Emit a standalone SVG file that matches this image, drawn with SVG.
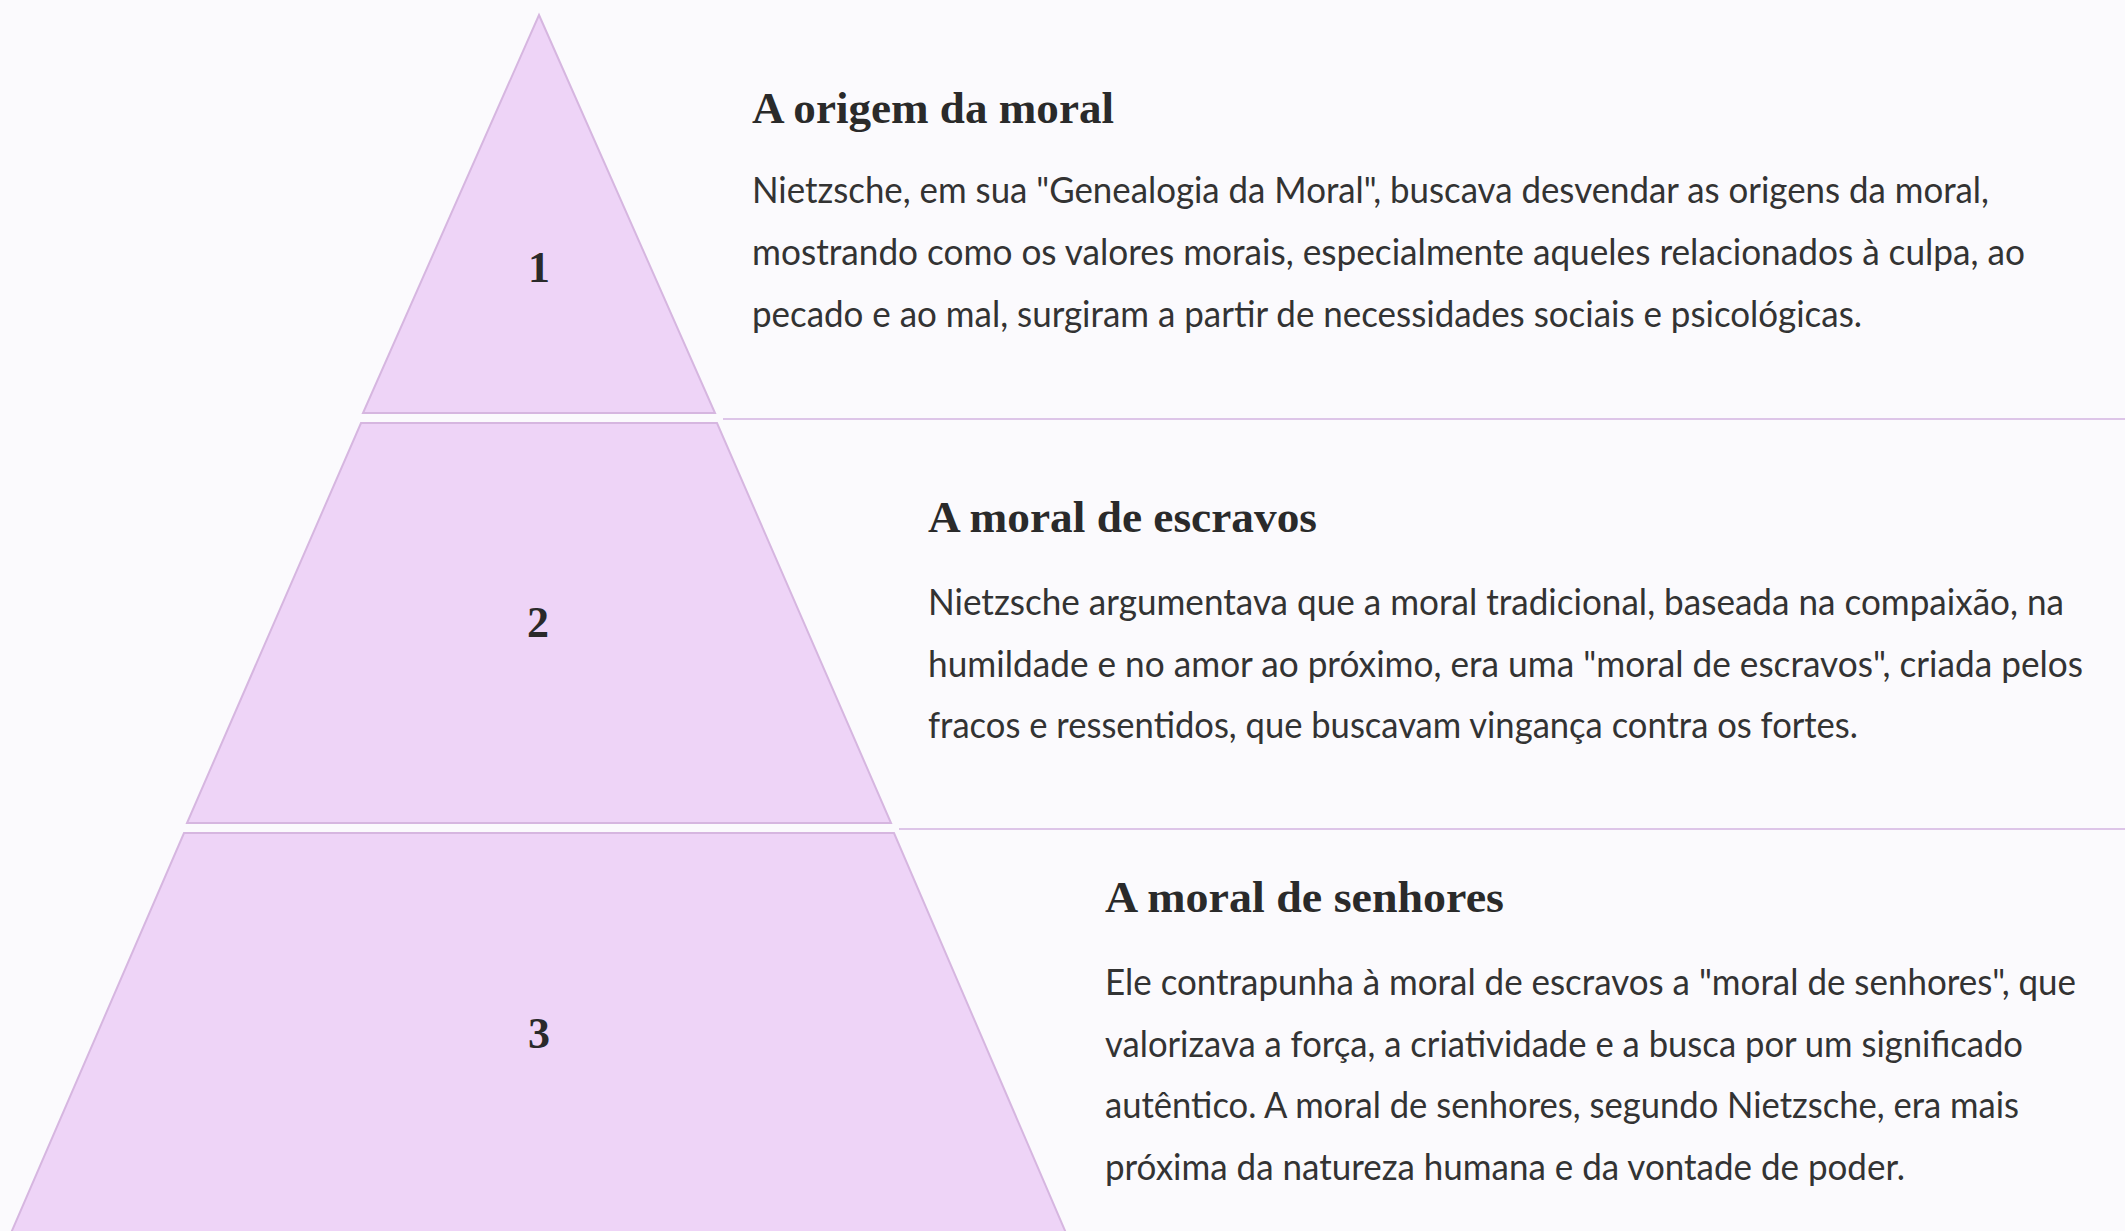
<svg xmlns="http://www.w3.org/2000/svg" width="2125" height="1231" viewBox="0 0 2125 1231">
<style>
.seg{fill:#EED4F7;stroke:#D6B6E0;stroke-width:2}
.sep{stroke:#DDC5E8;stroke-width:2}
.num{font-family:"Liberation Serif",serif;font-weight:700;font-size:44px;fill:#2a2a2a;text-anchor:middle}
.ttl{font-family:"Liberation Serif",serif;font-weight:700;font-size:45px;fill:#2a2a2a}
.txt{font-family:Lato,"Liberation Sans",sans-serif;font-size:36px;fill:#333333}
</style>
<rect x="0" y="0" width="2125" height="1231" fill="#FBFAFD"/>
<g id="connectors">
<line class="sep" x1="723" y1="419" x2="2125" y2="419"/>
<line class="sep" x1="899" y1="829" x2="2125" y2="829"/>
</g>
<g id="level1">
<polygon class="seg" points="539,15 715,413 363,413"/>
<text class="num" x="539" y="282">1</text>
<text class="ttl" x="752" y="123" textLength="362" lengthAdjust="spacingAndGlyphs">A origem da moral</text>
<text class="txt" x="752" y="203" textLength="1237" lengthAdjust="spacingAndGlyphs">Nietzsche, em sua "Genealogia da Moral", buscava desvendar as origens da moral,</text>
<text class="txt" x="752" y="265" textLength="1273" lengthAdjust="spacingAndGlyphs">mostrando como os valores morais, especialmente aqueles relacionados à culpa, ao</text>
<text class="txt" x="752" y="327" textLength="1110" lengthAdjust="spacingAndGlyphs">pecado e ao mal, surgiram a partir de necessidades sociais e psicológicas.</text>
</g>
<g id="level2">
<polygon class="seg" points="361,423 717,423 891,823 187,823"/>
<text class="num" x="538" y="637">2</text>
<text class="ttl" x="928" y="532" textLength="389" lengthAdjust="spacingAndGlyphs">A moral de escravos</text>
<text class="txt" x="928" y="615" textLength="1136" lengthAdjust="spacingAndGlyphs">Nietzsche argumentava que a moral tradicional, baseada na compaixão, na</text>
<text class="txt" x="928" y="677" textLength="1155" lengthAdjust="spacingAndGlyphs">humildade e no amor ao próximo, era uma "moral de escravos", criada pelos</text>
<text class="txt" x="928" y="738" textLength="930" lengthAdjust="spacingAndGlyphs">fracos e ressentidos, que buscavam vingança contra os fortes.</text>
</g>
<g id="level3">
<polygon class="seg" points="184,833 894,833 1069,1240 8,1240"/>
<text class="num" x="539" y="1048">3</text>
<text class="ttl" x="1105" y="912" textLength="399" lengthAdjust="spacingAndGlyphs">A moral de senhores</text>
<text class="txt" x="1105" y="995" textLength="971" lengthAdjust="spacingAndGlyphs">Ele contrapunha à moral de escravos a "moral de senhores", que</text>
<text class="txt" x="1105" y="1057" textLength="918" lengthAdjust="spacingAndGlyphs">valorizava a força, a criatividade e a busca por um significado</text>
<text class="txt" x="1105" y="1118" textLength="914" lengthAdjust="spacingAndGlyphs">autêntico. A moral de senhores, segundo Nietzsche, era mais</text>
<text class="txt" x="1105" y="1180" textLength="800" lengthAdjust="spacingAndGlyphs">próxima da natureza humana e da vontade de poder.</text>
</g>
</svg>
